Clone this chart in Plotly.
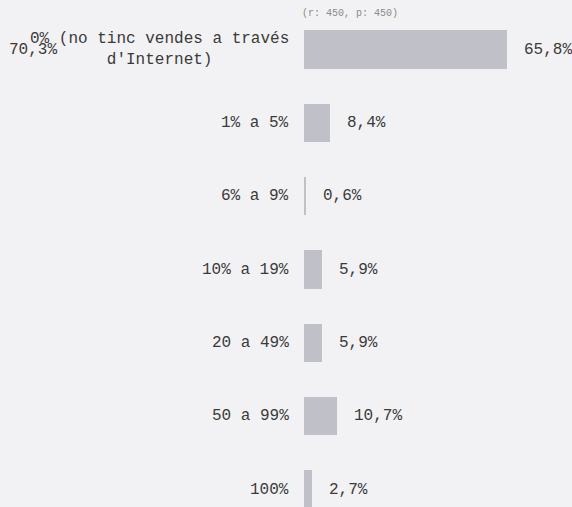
import plotly.graph_objects as go

# categories (top to bottom) and share of respondents (%)
categories = [
    "0% (no tinc vendes a través<br>d'Internet)",
    "1% a 5%",
    "6% a 9%",
    "10% a 19%",
    "20 a 49%",
    "50 a 99%",
    "100%",
]
values = [65.8, 8.4, 0.6, 5.9, 5.9, 10.7, 2.7]
value_labels = ["65,8%", "8,4%", "0,6%", "5,9%", "5,9%", "10,7%", "2,7%"]
stray_label = "70,3%"
subtitle = "(r: 450, p: 450)"

BG = "#f2f2f4"
BAR = "#c0c0c8"
TXT = "#3a3a3a"
FONT = "Liberation Mono, DejaVu Sans Mono, monospace"

keys = [str(i) for i in range(len(categories))]

fig = go.Figure()
fig.add_trace(go.Bar(
    y=keys,
    x=values,
    orientation="h",
    width=0.523,
    marker=dict(color=BAR, line=dict(width=0)),
    hoverinfo="skip",
))

annotations = []
# category labels, right aligned against the axis, lines centred
for k, cat in zip(keys, categories):
    annotations.append(dict(
        x=0, y=k, xref="x", yref="y",
        text=cat, showarrow=False,
        xanchor="right", yanchor="middle", align="center",
        xshift=-13,
        font=dict(family=FONT, size=16, color=TXT),
    ))
# value labels past the bar ends
for k, v, lab in zip(keys, values, value_labels):
    annotations.append(dict(
        x=v, y=k, xref="x", yref="y",
        text=lab, showarrow=False,
        xanchor="left", yanchor="middle",
        xshift=15,
        font=dict(family=FONT, size=16, color=TXT),
    ))
# leftover label sitting over the first category
annotations.append(dict(
    x=0, y=keys[0], xref="x", yref="y",
    text=stray_label, showarrow=False,
    xanchor="right", yanchor="middle",
    xshift=-245,
    font=dict(family=FONT, size=16, color=TXT),
))
# sample size note
annotations.append(dict(
    x=0.17, y=1, xref="paper", yref="paper",
    text=subtitle, showarrow=False,
    xanchor="center", yanchor="middle",
    font=dict(family=FONT, size=10, color="#8a8a8a"),
))

fig.update_layout(
    width=572,
    height=507,
    margin=dict(l=304, r=0, t=13, b=0, pad=0),
    paper_bgcolor=BG,
    plot_bgcolor=BG,
    showlegend=False,
    bargap=0,
    annotations=annotations,
    xaxis=dict(range=[0, 86.9], visible=False, fixedrange=True),
    yaxis=dict(
        type="category",
        categoryorder="array",
        categoryarray=keys,
        range=[6.237, -0.5],
        showticklabels=False,
        showgrid=False,
        zeroline=False,
        ticks="",
        fixedrange=True,
    ),
)

# drop the default page margin so the chart fills the window
fig.write_html(
    "out.html",
    config={"displayModeBar": False},
    post_script="document.body.style.margin='0';document.body.style.overflow='hidden';"
                "document.body.style.background='" + BG + "';",
)
